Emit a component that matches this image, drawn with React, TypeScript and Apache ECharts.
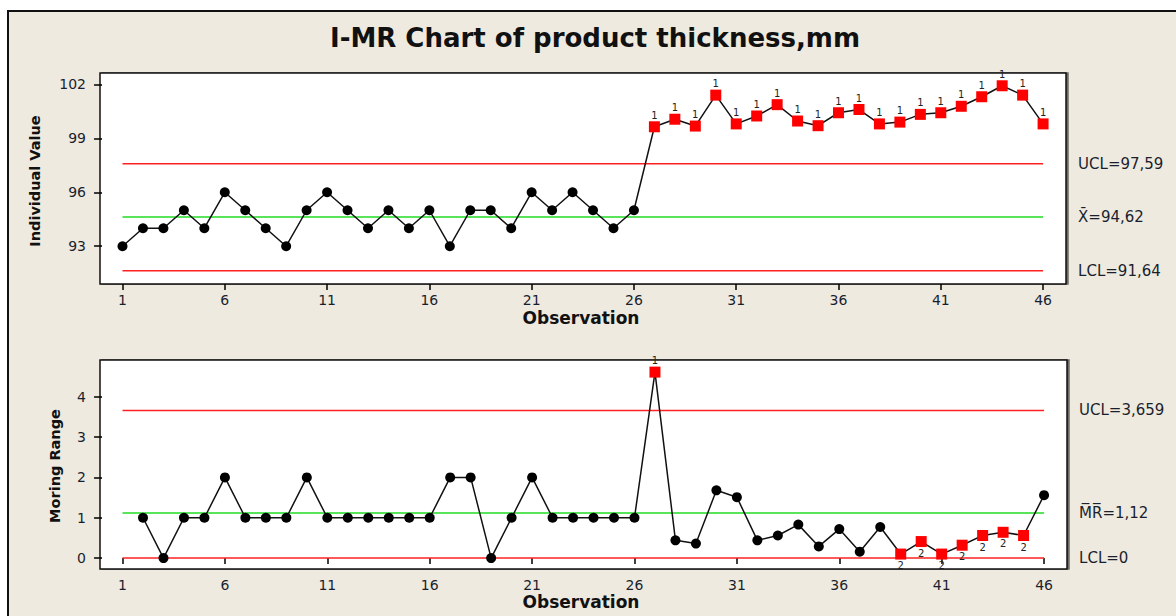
import React, { useEffect, useRef } from "react";
import * as echarts from "echarts";

const chartTitle = "I-MR Chart of product thickness,mm";

const individualValues = [
  93, 94, 94, 95, 94, 96, 95, 94, 93, 95, 96, 95, 94, 95, 94, 95, 93, 95, 95, 94,
  96, 95, 96, 95, 94, 95, 99.64, 100.06, 99.68, 101.4, 99.8, 100.24, 100.87, 99.96,
  99.7, 100.42, 100.6, 99.8, 99.9, 100.33, 100.42, 100.78, 101.31, 101.92, 101.4, 99.8,
];

const movingRanges = [
  null, 1, 0, 1, 1, 2, 1, 1, 1, 2, 1, 1, 1, 1, 1, 1, 2, 2, 0, 1,
  2, 1, 1, 1, 1, 1, 4.61, 0.44, 0.36, 1.68, 1.51, 0.44, 0.56, 0.83,
  0.29, 0.72, 0.16, 0.77, 0.1, 0.41, 0.1, 0.32, 0.56, 0.64, 0.56, 1.56,
];

// flagged observations (test number shown next to the point)
const individualTest1 = [27, 28, 29, 30, 31, 32, 33, 34, 35, 36, 37, 38, 39, 40, 41, 42, 43, 44, 45, 46];
const mrTest1 = [27];
const mrTest2 = [39, 40, 41, 42, 43, 44, 45];

const xTicks = [1, 6, 11, 16, 21, 26, 31, 36, 41, 46];
const individualTicks = [93, 96, 99, 102];
const mrTicks = [0, 1, 2, 3, 4];

const iLimits = { ucl: 97.59, center: 94.62, lcl: 91.64 };
const iLimitLabels = { ucl: "UCL=97,59", center: "X\u0304=94,62", lcl: "LCL=91,64" };
const mrLimits = { ucl: 3.659, center: 1.12, lcl: 0 };
const mrLimitLabels = { ucl: "UCL=3,659", center: "M\u0305R\u0305=1,12", lcl: "LCL=0" };

const FONT = "DejaVu Sans";
const TXT = "#1a1f2e";

export default function App() {
  const ref = useRef<HTMLDivElement>(null);

  useEffect(() => {
    if (!ref.current) return;
    const chart = echarts.init(ref.current, undefined, { renderer: "svg" });

    const first = 1;
    const last = individualValues.length;

    const pointData = (vals: (number | null)[], flags: { list: number[]; label: string; pos: string }[]) =>
      vals.map((v, i) => {
        const obs = i + 1;
        if (v === null) return [obs, null];
        const flag = flags.find((f) => f.list.includes(obs));
        if (!flag) {
          return { value: [obs, v] };
        }
        return {
          value: [obs, v],
          symbol: "rect",
          symbolSize: 11,
          itemStyle: { color: "#ff0000" },
          label: {
            show: true,
            formatter: flag.label,
            position: flag.pos,
            distance: 1,
            fontSize: 10,
            fontFamily: FONT,
            color: "#222",
          },
        };
      });

    const limitSeries = (
      xIdx: number,
      value: number,
      color: string,
      label: string
    ) => ({
      type: "line",
      xAxisIndex: xIdx,
      yAxisIndex: xIdx,
      data: [
        [first, value],
        [last, value],
      ],
      symbol: "none",
      silent: true,
      z: 1,
      lineStyle: { color, width: 1.5 },
      endLabel: {
        show: true,
        formatter: label,
        distance: 35,
        fontSize: 15,
        fontFamily: FONT,
        color: TXT,
        align: "left",
        verticalAlign: "middle",
      },
    });

    const xAxis = (gridIndex: number) => ({
      type: "value",
      gridIndex,
      min: -0.1,
      max: 47.12,
      axisLine: { show: false },
      splitLine: { show: false },
      axisTick: {
        show: true,
        length: 6,
        customValues: xTicks,
        lineStyle: { color: "#000", width: 1.5 },
      },
      axisLabel: {
        customValues: xTicks,
        fontSize: 14,
        fontFamily: FONT,
        color: TXT,
        margin: 9,
      },
    });

    const yAxis = (gridIndex: number, min: number, max: number, ticks: number[]) => ({
      type: "value",
      gridIndex,
      min,
      max,
      axisLine: { show: false },
      splitLine: { show: false },
      axisTick: {
        show: true,
        length: 8,
        customValues: ticks,
        lineStyle: { color: "#000", width: 1.5 },
      },
      axisLabel: {
        customValues: ticks,
        fontSize: 14,
        fontFamily: FONT,
        color: TXT,
        margin: 14,
      },
    });

    const lineStyle = { color: "#111", width: 1.5 };

    chart.setOption({
      animation: false,
      backgroundColor: "#ffffff",
      graphic: [
        {
          type: "rect",
          shape: { x: 8, y: 11, width: 1300, height: 700 },
          style: { fill: "#eeeae0", stroke: "#111", lineWidth: 2 },
          z: -10,
          silent: true,
        },
        {
          type: "text",
          x: 595,
          y: 38,
          style: {
            text: chartTitle,
            font: `bold 26px "${FONT}"`,
            fill: "#111",
            align: "center",
            verticalAlign: "middle",
          },
        },
        {
          type: "text",
          x: 35,
          y: 181,
          rotation: Math.PI / 2,
          style: {
            text: "Individual Value",
            font: `bold 14.5px "${FONT}"`,
            fill: "#111",
            align: "center",
            verticalAlign: "middle",
          },
        },
        {
          type: "text",
          x: 55,
          y: 466,
          rotation: Math.PI / 2,
          style: {
            text: "Moring Range",
            font: `bold 14.5px "${FONT}"`,
            fill: "#111",
            align: "center",
            verticalAlign: "middle",
          },
        },
        {
          type: "text",
          x: 581,
          y: 318,
          style: {
            text: "Observation",
            font: `bold 17px "${FONT}"`,
            fill: "#111",
            align: "center",
            verticalAlign: "middle",
          },
        },
        {
          type: "text",
          x: 581,
          y: 602,
          style: {
            text: "Observation",
            font: `bold 17px "${FONT}"`,
            fill: "#111",
            align: "center",
            verticalAlign: "middle",
          },
        },
      ],
      grid: [
        {
          left: 100,
          top: 73,
          width: 966,
          height: 211,
          show: true,
          backgroundColor: "#ffffff",
          borderColor: "#111",
          borderWidth: 1.5,
          shadowColor: "rgba(0,0,0,0.55)",
          shadowOffsetX: 2,
          shadowOffsetY: 0,
          shadowBlur: 1,
        },
        {
          left: 100,
          top: 360,
          width: 967,
          height: 209,
          show: true,
          backgroundColor: "#ffffff",
          borderColor: "#111",
          borderWidth: 1.5,
          shadowColor: "rgba(0,0,0,0.55)",
          shadowOffsetX: 2,
          shadowOffsetY: 0,
          shadowBlur: 1,
        },
      ],
      xAxis: [xAxis(0), xAxis(1)],
      yAxis: [yAxis(0, 90.9, 102.63, individualTicks), yAxis(1, -0.27, 4.91, mrTicks)],
      series: [
        limitSeries(0, iLimits.ucl, "#ff2020", iLimitLabels.ucl),
        limitSeries(0, iLimits.center, "#22dd22", iLimitLabels.center),
        limitSeries(0, iLimits.lcl, "#ff2020", iLimitLabels.lcl),
        limitSeries(1, mrLimits.ucl, "#ff2020", mrLimitLabels.ucl),
        limitSeries(1, mrLimits.center, "#22dd22", mrLimitLabels.center),
        limitSeries(1, mrLimits.lcl, "#ff2020", mrLimitLabels.lcl),
        {
          type: "line",
          xAxisIndex: 0,
          yAxisIndex: 0,
          z: 5,
          symbol: "circle",
          symbolSize: 10,
          showAllSymbol: true,
          itemStyle: { color: "#000" },
          lineStyle,
          data: pointData(individualValues, [{ list: individualTest1, label: "1", pos: "top" }]),
        },
        {
          type: "line",
          xAxisIndex: 1,
          yAxisIndex: 1,
          z: 5,
          symbol: "circle",
          symbolSize: 10,
          showAllSymbol: true,
          connectNulls: false,
          itemStyle: { color: "#000" },
          lineStyle,
          data: pointData(movingRanges, [
            { list: mrTest1, label: "1", pos: "top" },
            { list: mrTest2, label: "2", pos: "bottom" },
          ]),
        },
      ],
    });

    return () => chart.dispose();
  }, []);

  return (
    <div
      ref={ref}
      style={{ position: "absolute", left: 0, top: 0, width: 1176, height: 616 }}
    />
  );
}
